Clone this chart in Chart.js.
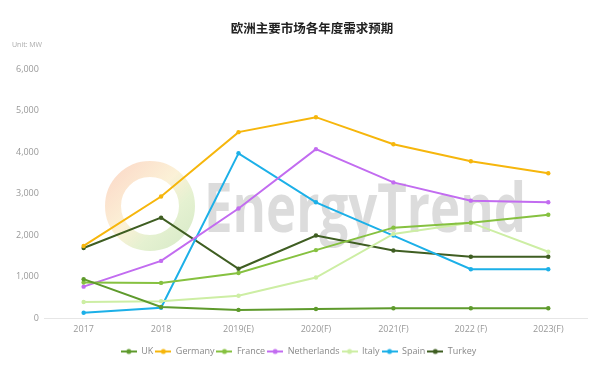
<!DOCTYPE html>
<html>
<head>
<meta charset="utf-8">
<script src="https://cdn.jsdelivr.net/npm/chart.js@4.4.1/dist/chart.umd.min.js"></script>
<style>
  html, body { margin: 0; padding: 0; background: #fff; }
  #wrap { width: 600px; height: 366px; }
</style>
</head>
<body>
<div id="wrap"><canvas id="demandChart" width="600" height="366"></canvas></div>
<script>
const years = ["2017", "2018", "2019(E)", "2020(F)", "2021(F)", "2022 (F)", "2023(F)"];
const yTicks = [0, 1000, 2000, 3000, 4000, 5000, 6000];

const uk          = [940, 270, 200, 220, 240, 240, 240];
const germany     = [1740, 2930, 4480, 4840, 4190, 3780, 3490];
const france      = [860, 850, 1090, 1640, 2180, 2300, 2490];
const netherlands = [760, 1380, 2640, 4070, 3270, 2830, 2790];
const italy       = [390, 410, 540, 980, 2030, 2300, 1600];
const spain       = [130, 250, 3970, 2790, 1990, 1180, 1180];
const turkey      = [1690, 2420, 1190, 1990, 1630, 1480, 1480];

const series = [
    { name: "UK", data: uk, color: "#5e9a2c" },
    { name: "Germany", data: germany, color: "#f6b60c" },
    { name: "France", data: france, color: "#86c140" },
    { name: "Netherlands", data: netherlands, color: "#c26cf0" },
    { name: "Italy", data: italy, color: "#cdeea4" },
    { name: "Spain", data: spain, color: "#1cb0e8" },
    { name: "Turkey", data: turkey, color: "#3f5e22" }
];

function legendIcon(color) {
    const c = document.createElement("canvas");
    c.width = 16;
    c.height = 8;
    const g = c.getContext("2d");
    g.strokeStyle = color;
    g.lineWidth = 2;
    g.beginPath();
    g.moveTo(0, 4);
    g.lineTo(16, 4);
    g.stroke();
    g.fillStyle = color;
    g.beginPath();
    g.arc(8, 4, 2.5, 0, Math.PI * 2);
    g.fill();
    return c;
}

// watermark, title (off-centre like the original) and unit label
const decor = {
    id: "decor",
    beforeDatasetsDraw(chart) {
        const ctx = chart.ctx;
        ctx.save();
        const cx = 150, cy = 206, r = 37;
        const grad = ctx.createLinearGradient(cx - r, cy - r, cx + r, cy + r);
        grad.addColorStop(0, "rgba(245,150,100,0.35)");
        grad.addColorStop(0.45, "rgba(245,215,140,0.35)");
        grad.addColorStop(0.7, "rgba(190,220,140,0.4)");
        grad.addColorStop(1, "rgba(160,205,120,0.4)");
        ctx.strokeStyle = grad;
        ctx.lineWidth = 16;
        ctx.beginPath();
        ctx.arc(cx, cy, r, 0, Math.PI * 2);
        ctx.stroke();
        ctx.fillStyle = "rgba(140,140,140,0.3)";
        ctx.font = "bold 68px 'Open Sans', sans-serif";
        ctx.textBaseline = "alphabetic";
        const w = ctx.measureText("EnergyTrend").width;
        ctx.translate(204, 232);
        ctx.scale(322 / w, 1);
        ctx.fillText("EnergyTrend", 0, 0);
        ctx.restore();
    },
    afterDraw(chart) {
        const ctx = chart.ctx;
        ctx.save();
        ctx.fillStyle = "#222";
        ctx.font = "bold 12.5px 'Noto Sans CJK SC', sans-serif";
        ctx.textAlign = "center";
        ctx.textBaseline = "middle";
        ctx.fillText("欧洲主要市场各年度需求预期", 312, 28);
        ctx.fillStyle = "#aaa";
        ctx.font = "7px 'Open Sans', sans-serif";
        ctx.textAlign = "left";
        ctx.fillText("Unit: MW", 12, 45);
        ctx.restore();
    }
};

new Chart(document.getElementById("demandChart"), {
    type: "line",
    data: {
        labels: years,
        datasets: series.map(s => ({
            label: s.name,
            data: s.data,
            borderColor: s.color,
            backgroundColor: s.color,
            borderWidth: 2,
            pointRadius: 2.2,
            pointBorderWidth: 0,
            pointHoverRadius: 2.5,
            tension: 0
        }))
    },
    options: {
        responsive: false,
        animation: false,
        layout: { padding: { left: 10, right: 13, top: 69, bottom: 0 } },
        plugins: {
            title: { display: false },
            legend: {
                position: "bottom",
                labels: {
                    color: "#888",
                    font: { family: "'Open Sans', sans-serif", size: 9 },
                    boxHeight: 8,
                    padding: 2,
                    usePointStyle: true,
                    pointStyleWidth: 16,
                    generateLabels: chart => chart.data.datasets.map((ds, i) => ({
                        text: ds.label,
                        pointStyle: legendIcon(ds.borderColor),
                        fillStyle: ds.borderColor,
                        strokeStyle: ds.borderColor,
                        fontColor: "#888",
                        lineWidth: 0,
                        datasetIndex: i,
                        hidden: !chart.isDatasetVisible(i)
                    }))
                }
            },
            tooltip: { enabled: false }
        },
        scales: {
            x: {
                offset: true,
                afterFit: axis => { axis.height += 4; },
                grid: { display: false, drawTicks: false },
                border: { display: true, color: "#e6e6e6" },
                ticks: {
                    color: "#999",
                    font: { family: "'Open Sans', sans-serif", size: 9 },
                    padding: 6
                }
            },
            y: {
                min: 0,
                max: 6000,
                afterBuildTicks: axis => { axis.ticks = yTicks.map(v => ({ value: v })); },
                grid: { display: false, drawTicks: false },
                border: { display: false },
                ticks: {
                    color: "#999",
                    font: { family: "'Open Sans', sans-serif", size: 9 },
                    padding: 6,
                    callback: v => v.toLocaleString("en-US")
                }
            }
        }
    },
    plugins: [decor]
});
</script>
</body>
</html>
